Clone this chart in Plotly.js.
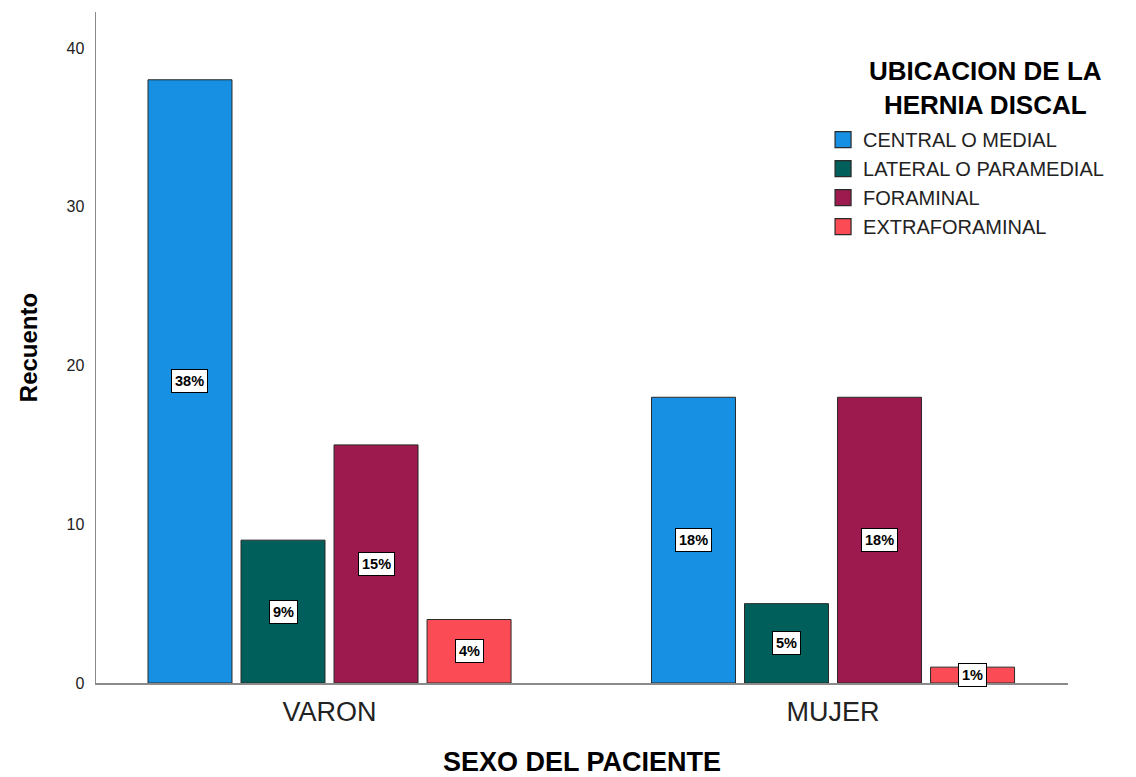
<!DOCTYPE html>
<html><head><meta charset="utf-8">
<script src="https://cdn.plot.ly/plotly-3.0.1.min.js"></script>
<style>body{margin:0;background:#fff}#chart{width:1136px;height:777px}</style>
</head><body><div id="chart"></div>
<script>
const categories = ["VARON", "MUJER"];
const seriesNames = ["CENTRAL O MEDIAL", "LATERAL O PARAMEDIAL", "FORAMINAL", "EXTRAFORAMINAL"];
const centralMedial = [38, 18];
const lateralParamedial = [9, 5];
const foraminal = [15, 18];
const extraforaminal = [4, 1];
const pctCentral = ["38%", "18%"];
const pctLateral = ["9%", "5%"];
const pctForaminal = ["15%", "18%"];
const pctExtra = ["4%", "1%"];
const legendTitle = "UBICACION DE LA<br>HERNIA DISCAL";
const colors = ["#1790e3", "#005f5a", "#9c1a4d", "#fb4b55"];

const values = [centralMedial, lateralParamedial, foraminal, extraforaminal];
const pcts = [pctCentral, pctLateral, pctForaminal, pctExtra];
const xIdx = categories.map((c, i) => i);
const bargap = 0.261, bargroupgap = 0.097;
const slot = (1 - bargap) / values.length;

const traces = values.map((v, j) => ({
  type: "bar", x: xIdx, y: v, name: seriesNames[j], showlegend: false,
  marker: {color: colors[j], line: {color: "#2a2a2a", width: 1}},
  hoverinfo: "none"
}));
// legend entries (bigger square swatches)
seriesNames.forEach((n, j) => traces.push({
  type: "scatter", mode: "markers", x: [null], y: [null], name: n,
  marker: {symbol: "square", size: 16, color: colors[j], line: {color: "#2a2a2a", width: 1.2}},
  hoverinfo: "none"
}));

const annotations = [];
values.forEach((v, j) => {
  v.forEach((val, i) => {
    annotations.push({
      x: i + (j - (values.length - 1) / 2) * slot, y: val / 2, xref: "x", yref: "y",
      text: "<b>" + pcts[j][i] + "</b>", showarrow: false,
      font: {family: "Liberation Sans, Arial", size: 14.5, color: "#000"},
      bgcolor: "#ffffff", bordercolor: "#000000", borderwidth: 1, borderpad: 3
    });
  });
});
annotations.push({
  x: 0.915, y: 0.938, xref: "paper", yref: "paper", xanchor: "center", yanchor: "top",
  text: "<b>" + legendTitle + "</b>", align: "center", showarrow: false,
  font: {family: "Liberation Sans, Arial", size: 26, color: "#000"}
});

const layout = {
  width: 1136, height: 777,
  margin: {l: 96, r: 68, t: 12, b: 94},
  paper_bgcolor: "#fff", plot_bgcolor: "#fff",
  barmode: "group", bargap: bargap, bargroupgap: bargroupgap,
  font: {family: "Liberation Sans, Arial", color: "#000"},
  xaxis: {
    range: [-0.4638, 1.4667], tickvals: xIdx, ticktext: categories,
    showline: true, linecolor: "#8a8a8a", linewidth: 1.5, showgrid: false, zeroline: false,
    ticks: "", tickfont: {family: "Liberation Sans, Arial", size: 27, color: "#222"},
    ticklabelstandoff: 4,
    title: {text: "<b>SEXO DEL PACIENTE</b>", font: {family: "Liberation Sans, Arial", size: 27, color: "#000"}, standoff: 33}
  },
  yaxis: {
    range: [0, 42.27], tickvals: [0, 10, 20, 30, 40],
    showline: true, linecolor: "#8a8a8a", linewidth: 1.5, showgrid: false, zeroline: false,
    ticks: "", tickfont: {family: "Liberation Sans, Arial", size: 16, color: "#222"},
    ticklabelstandoff: 7,
    title: {text: "<b>Recuento</b>", font: {family: "Liberation Sans, Arial", size: 24, color: "#000"}, standoff: 22}
  },
  showlegend: true,
  legend: {
    x: 0.748, y: 0.839, xanchor: "left", yanchor: "top",
    bgcolor: "rgba(0,0,0,0)",
    font: {family: "Liberation Sans, Arial", size: 20, color: "#222"},
    itemclick: false, tracegroupgap: 0
  },
  annotations: annotations
};
Plotly.newPlot("chart", traces, layout, {staticPlot: true, displayModeBar: false});
</script></body></html>
